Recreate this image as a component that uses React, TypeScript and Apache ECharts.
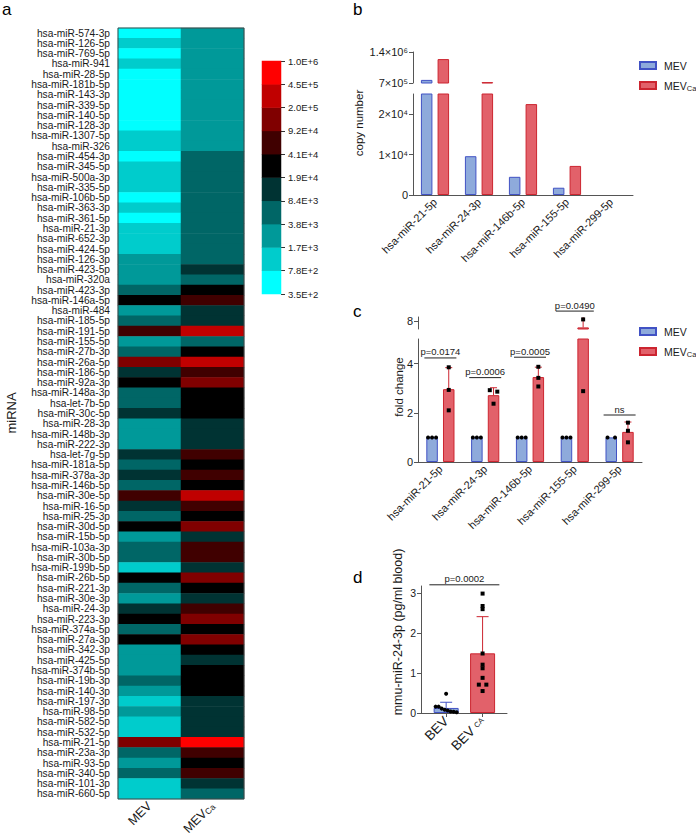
import React, { useEffect, useRef } from 'react';
import * as echarts from 'echarts';

const FONT = '"Liberation Sans", Arial, sans-serif';

// ---------- panel a: heatmap ----------
const heatmapRows = [
  'hsa-miR-574-3p','hsa-miR-126-5p','hsa-miR-769-5p','hsa-miR-941','hsa-miR-28-5p','hsa-miR-181b-5p','hsa-miR-143-3p','hsa-miR-339-5p','hsa-miR-140-5p','hsa-miR-128-3p',
  'hsa-miR-1307-5p','hsa-miR-326','hsa-miR-454-3p','hsa-miR-345-5p','hsa-miR-500a-3p','hsa-miR-335-5p','hsa-miR-106b-5p','hsa-miR-363-3p','hsa-miR-361-5p','hsa-miR-21-3p',
  'hsa-miR-652-3p','hsa-miR-424-5p','hsa-miR-126-3p','hsa-miR-423-5p','hsa-miR-320a','hsa-miR-423-3p','hsa-miR-146a-5p','hsa-miR-484','hsa-miR-185-5p','hsa-miR-191-5p',
  'hsa-miR-155-5p','hsa-miR-27b-3p','hsa-miR-26a-5p','hsa-miR-186-5p','hsa-miR-92a-3p','hsa-miR-148a-3p','hsa-let-7b-5p','hsa-miR-30c-5p','hsa-miR-28-3p','hsa-miR-148b-3p',
  'hsa-miR-222-3p','hsa-let-7g-5p','hsa-miR-181a-5p','hsa-miR-378a-3p','hsa-miR-146b-5p','hsa-miR-30e-5p','hsa-miR-16-5p','hsa-miR-25-3p','hsa-miR-30d-5p','hsa-miR-15b-5p',
  'hsa-miR-103a-3p','hsa-miR-30b-5p','hsa-miR-199b-5p','hsa-miR-26b-5p','hsa-miR-221-3p','hsa-miR-30e-3p','hsa-miR-24-3p','hsa-miR-223-3p','hsa-miR-374a-5p','hsa-miR-27a-3p',
  'hsa-miR-342-3p','hsa-miR-425-5p','hsa-miR-374b-5p','hsa-miR-19b-3p','hsa-miR-140-3p','hsa-miR-197-3p','hsa-miR-98-5p','hsa-miR-582-5p','hsa-miR-532-5p','hsa-miR-21-5p',
  'hsa-miR-23a-3p','hsa-miR-93-5p','hsa-miR-340-5p','hsa-miR-101-3p','hsa-miR-660-5p',
];
const heatmapCols = ['MEV', 'MEVCa'];
const mevCopies = [
  520,1200,520,1200,520,520,520,520,520,520,
  1200,1200,520,1200,1200,1200,520,1200,520,1200,
  1200,1200,2600,2600,2600,5600,28000,2600,5600,62000,
  2600,5600,135000,12500,28000,5600,5600,12500,2600,2600,
  2600,12500,5600,12500,5600,62000,12500,5600,28000,2600,
  5600,5600,1200,28000,5600,2600,12500,28000,5600,28000,
  2600,2600,2600,5600,2600,1200,2600,1200,1200,135000,
  5600,2600,5600,1200,1200,
];
const mevCaCopies = [
  2600,2600,2600,2600,2600,2600,2600,2600,2600,2600,
  2600,2600,5600,5600,5600,5600,5600,5600,5600,5600,
  5600,5600,5600,12500,5600,28000,62000,12500,12500,300000,
  5600,28000,300000,62000,135000,28000,28000,28000,12500,12500,
  12500,62000,28000,62000,28000,300000,62000,28000,135000,12500,
  62000,62000,12500,135000,28000,12500,62000,135000,28000,135000,
  28000,12500,28000,28000,28000,12500,12500,12500,12500,700000,
  62000,28000,62000,12500,5600,
];
const scaleBreaks = [350, 780, 1700, 3800, 8400, 19000, 41000, 92000, 200000, 450000, 1000000];
const scaleLabels = ['3.5E+2','7.8E+2','1.7E+3','3.8E+3','8.4E+3','1.9E+4','4.1E+4','9.2E+4','2.0E+5','4.5E+5','1.0E+6'];
const scaleColors = ['#00ffff','#00cccc','#009999','#006666','#003333','#000000','#400000','#800000','#c00000','#ff0000'];

// ---------- panel b: copy number ----------
const bCats = ['hsa-miR-21-5p','hsa-miR-24-3p','hsa-miR-146b-5p','hsa-miR-155-5p','hsa-miR-299-5p'];
const bMev = [770000, 9600, 4500, 1800, 0];
const bMevCa = [1240000, 720000, 22500, 7200, 0];
const bUpperTicks = [700000, 1400000];
const bUpperLabels = ['7×10⁵', '1.4×10⁶'];
const bLowerTicks = [0, 10000, 20000];
const bLowerLabels = ['0', '1×10⁴', '2×10⁴'];

// ---------- panel c: fold change ----------
const cCats = bCats;
const cMevPts = [[1, 1, 1], [1, 1, 1], [1, 1, 1], [1, 1, 1], [1, 1]];
const cMevCaPts = [[3.85, 2.93, 2.1], [2.92, 2.86, 2.37], [3.87, 3.42, 3.07], [8.1, 2.88, 11.82], [1.6, 1.27, 0.8]];
const cBracketCats = [0, 1, 2, 4];
const cBracketY = [4.23, 3.43, 4.26, 1.91];
const cBracketText = ['p=0.0174', 'p=0.0006', 'p=0.0005', 'ns'];
const cUpperBracketCats = [3];
const cUpperBracketY = [8.62];
const cUpperBracketText = ['p=0.0490'];

// ---------- panel d ----------
const dCats = ['BEV', 'BEVCA'];
const dBevPts = [0.48, 0.16, 0.16, 0.11, 0.08, 0.06, 0.04, 0.03, 0.02];
const dBevCaPts = [2.99, 2.68, 2.6, 1.49, 1.21, 1.12, 0.88, 0.71, 0.71, 0.55];
const dBracketText = ['p=0.0002'];

const MEV_FILL = '#8eaadb';
const MEV_EDGE = '#4152c4';
const CA_FILL = '#e2616a';
const CA_EDGE = '#cc2530';
const AX = '#555';
const TXT = '#1a1a1a';

const mean = (a: number[]) => a.reduce((s, v) => s + v, 0) / a.length;
const sd = (a: number[]) => {
  if (a.length < 2) return 0;
  const m = mean(a);
  return Math.sqrt(a.reduce((s, v) => s + (v - m) * (v - m), 0) / (a.length - 1));
};

function spread(ys: number[], thr: number) {
  const idx = ys.map((_, i) => i).sort((a, b) => ys[a] - ys[b]);
  const out = new Array(ys.length).fill(0);
  let group: number[] = [];
  const flush = () => {
    const n = group.length;
    const step = n === 2 ? 7.5 : n === 3 ? 4 : 3;
    group.forEach((gi, j) => { out[gi] = (j - (n - 1) / 2) * step; });
    group = [];
  };
  idx.forEach((i) => {
    if (group.length && ys[i] - ys[group[group.length - 1]] > thr) flush();
    group.push(i);
  });
  flush();
  return out;
}

const BW = 11.5;
const BGAP_PCT = 45;
const OFF = (BW + BW * BGAP_PCT / 100) / 2;

function makeDots(getPts: (cat: number, g: number) => number[], offFor: (g: number) => number, capW: number) {
  return (params: any, api: any) => {
    const cs = params.coordSys;
    const cat = api.value(0) as number;
    const g = api.value(1) as number;
    const pts = getPts(cat, g);
    const m = mean(pts);
    const s = sd(pts);
    const cx = api.coord([cat, 0])[0] + offFor(g);
    const top = cs.y;
    const bot = cs.y + cs.height;
    const clampY = (y: number) => Math.max(top, Math.min(bot, y));
    const color = g === 0 ? MEV_EDGE : CA_EDGE;
    const children: any[] = [];
    if (s > 0) {
      const y0 = clampY(api.coord([cat, m])[1]);
      const y1raw = api.coord([cat, m + s])[1];
      const y1 = clampY(y1raw);
      if (y0 - y1 > 0.5) children.push({ type: 'line', shape: { x1: cx, y1: y0, x2: cx, y2: y1 }, style: { stroke: color, lineWidth: 1 } });
      if (y1raw >= top && y1raw <= bot) children.push({ type: 'line', shape: { x1: cx - capW / 2, y1: y1raw, x2: cx + capW / 2, y2: y1raw }, style: { stroke: color, lineWidth: 1 } });
    }
    const ys = pts.map((v) => api.coord([cat, v])[1]);
    const offs = spread(ys, 2.5);
    ys.forEach((y, i) => {
      if (y < top - 1 || y > bot + 1) return;
      const x = cx + offs[i];
      children.push(g === 0
        ? { type: 'circle', shape: { cx: x, cy: y, r: 2 }, style: { fill: '#000' } }
        : { type: 'rect', shape: { x: x - 2, y: y - 2, width: 4, height: 4 }, style: { fill: '#000' } });
    });
    return { type: 'group', children };
  };
}

function makeBracket(texts: string[], half: number) {
  return (params: any, api: any) => {
    const p = api.coord([api.value(0), api.value(1)]);
    return {
      type: 'group',
      children: [
        { type: 'line', shape: { x1: p[0] - half, y1: p[1], x2: p[0] + half, y2: p[1] }, style: { stroke: '#222', lineWidth: 1 } },
        { type: 'text', x: p[0], y: p[1] - 1, style: { text: texts[params.dataIndex], align: 'center', verticalAlign: 'bottom', fontSize: 9.5, fill: TXT, fontFamily: FONT } },
      ],
    };
  };
}

const subRich = (size: number, pad: number) => ({ sub: { fontSize: size, padding: [pad, 0, 0, 0], fontFamily: FONT, color: TXT } });

export default function App() {
  const ref = useRef<HTMLDivElement>(null);
  useEffect(() => {
    if (!ref.current) return;
    const chart = echarts.init(ref.current, null, { renderer: 'svg' });

    const heatData: any[] = [];
    heatmapRows.forEach((_, i) => {
      heatData.push([0, i, mevCopies[i]]);
      heatData.push([1, i, mevCaCopies[i]]);
    });
    const pieces = scaleColors.map((c, k) => ({ gte: scaleBreaks[k], lt: scaleBreaks[k + 1], color: c }));
    const segValues = scaleColors.map((_, k) => Math.sqrt(scaleBreaks[k] * scaleBreaks[k + 1]));

    const valAxisBase = (grid: number, min: number, max: number, ticks: number[], labels: string[], fs = 11) => ({
      gridIndex: grid, type: 'value', min, max,
      axisLine: { show: true, onZero: false, lineStyle: { color: AX } },
      axisTick: { show: true, length: 4, customValues: ticks, lineStyle: { color: AX } },
      axisLabel: { customValues: ticks, fontSize: fs, color: TXT, margin: 5, fontFamily: FONT, formatter: (v: number) => { const i = ticks.indexOf(v); return i >= 0 ? labels[i] : ''; } },
      splitLine: { show: false },
    });
    const catAxisHidden = (grid: number, data: string[]) => ({ gridIndex: grid, type: 'category', data, show: false });
    const catAxisLabels = (grid: number, data: string[]) => ({
      gridIndex: grid, type: 'category', data,
      axisLine: { onZero: false, lineStyle: { color: AX } },
      axisTick: { alignWithLabel: true, length: 3, lineStyle: { color: AX } },
      axisLabel: { interval: 0, rotate: 45, margin: 5, fontSize: 11, color: TXT, fontFamily: FONT },
    });
    const barStyle = (g: number) => ({ color: g === 0 ? MEV_FILL : CA_FILL, borderColor: g === 0 ? MEV_EDGE : CA_EDGE, borderWidth: 1 });
    const bar = (name: string, xi: number, yi: number, data: number[], g: number) => ({
      type: 'bar', name, xAxisIndex: xi, yAxisIndex: yi,
      data: data.map((v) => (v > 0 ? v : '-')),
      barWidth: BW, barGap: BGAP_PCT + '%', itemStyle: barStyle(g), clip: true,
    });
    const cMevMeans = cMevPts.map(mean);
    const cCaMeans = cMevCaPts.map(mean);
    const cDotData: number[][] = [];
    cCats.forEach((_, i) => { cDotData.push([i, 0]); cDotData.push([i, 1]); });
    const cDots = makeDots((cat, g) => (g === 0 ? cMevPts : cMevCaPts)[cat], (g) => (g === 0 ? -OFF : OFF), 7);
    const dPts = [dBevPts, dBevCaPts];
    const dDots = makeDots((cat, g) => dPts[g], () => 0, 12);

    const legendBase = (top: number) => ({
      data: ['MEV', 'MEVCa'], orient: 'vertical', left: 634, top, itemWidth: 16, itemHeight: 7, itemGap: 6, icon: 'rect', selectedMode: false,
      formatter: (n: string) => (n === 'MEVCa' ? 'MEV{sub|Ca}' : n),
      textStyle: { fontSize: 10.5, color: TXT, lineHeight: 14, padding: [0, 0, 0, 3], fontFamily: FONT, rich: subRich(7.5, 5) },
    });

    const option: any = {
      animation: false,
      textStyle: { fontFamily: FONT },
      grid: [
        { left: 118, top: 28, width: 126, height: 771, outerBoundsMode: 'none' },
        { left: 262, top: 61, width: 19, height: 233, outerBoundsMode: 'none' },
        { left: 413, top: 52, width: 220, height: 31, outerBoundsMode: 'none' },
        { left: 413, top: 94, width: 220, height: 101, outerBoundsMode: 'none' },
        { left: 418, top: 317, width: 224, height: 12, outerBoundsMode: 'none' },
        { left: 418, top: 339, width: 224, height: 123, outerBoundsMode: 'none' },
        { left: 421, top: 586, width: 86, height: 127, outerBoundsMode: 'none' },
      ],
      legend: [legendBase(53.5), legendBase(319.5)],
      visualMap: { type: 'piecewise', show: false, seriesIndex: [0, 1], pieces, dimension: 2 },
      xAxis: [
        {
          gridIndex: 0, type: 'category', data: heatmapCols, position: 'bottom',
          axisLine: { show: false },
          axisTick: { alignWithLabel: true, length: 4, lineStyle: { color: '#333' } },
          axisLabel: { rotate: 45, margin: 5, fontSize: 12.5, color: TXT, fontFamily: FONT, formatter: (v: string) => (v === 'MEVCa' ? 'MEV{sub|Ca}' : v), rich: subRich(8.5, 4) },
        },
        catAxisHidden(1, ['']),
        catAxisHidden(2, bCats),
        catAxisLabels(3, bCats),
        catAxisHidden(4, cCats),
        catAxisLabels(5, cCats),
        {
          gridIndex: 6, type: 'value', min: -0.69, max: 1.67,
          axisLine: { onZero: false, lineStyle: { color: AX } },
          axisTick: { length: 4, customValues: [0, 1], lineStyle: { color: AX } },
          axisLabel: { customValues: [0, 1], rotate: 45, margin: 6, fontSize: 13.5, color: TXT, fontFamily: FONT, formatter: (v: number) => (Math.round(v) === 1 ? 'BEV {sub|CA}' : dCats[0]), rich: subRich(7.5, 0) },
          splitLine: { show: false },
        },
      ],
      yAxis: [
        {
          gridIndex: 0, type: 'category', data: heatmapRows, inverse: true, position: 'left',
          axisLine: { show: false },
          axisTick: { alignWithLabel: true, interval: 0, length: 10, lineStyle: { color: '#222' } },
          axisLabel: { interval: 0, fontSize: 10.2, lineHeight: 10, margin: 8, color: TXT, fontFamily: FONT },
        },
        {
          gridIndex: 0, type: 'category', data: heatmapRows, inverse: true, position: 'left', z: 10,
          axisLine: { show: false },
          axisTick: { inside: true, alignWithLabel: true, interval: 0, length: 10, lineStyle: { color: '#222' } },
          axisLabel: { show: false },
        },
        { gridIndex: 1, type: 'category', data: scaleColors.map((_, k) => String(k)), show: false },
        {
          gridIndex: 1, type: 'value', min: 0, max: 10, interval: 1, position: 'right',
          axisLine: { show: false },
          axisTick: { show: true, length: 4, lineStyle: { color: '#333' } },
          axisLabel: { fontSize: 9.5, margin: 7, color: TXT, fontFamily: FONT, formatter: (v: number) => scaleLabels[Math.round(v)] },
          splitLine: { show: false },
        },
        valAxisBase(2, 700000, 1400000, bUpperTicks, bUpperLabels),
        valAxisBase(3, 0, 25000, bLowerTicks, bLowerLabels),
        valAxisBase(4, 7.5, 8.25, [8], ['8']),
        valAxisBase(5, 0, 5, [0, 2, 4], ['0', '2', '4']),
        valAxisBase(6, 0, 3.18, [0, 1, 2, 3], ['0', '1', '2', '3'], 10.5),
      ],
      series: [
        { type: 'heatmap', name: 'heat', xAxisIndex: 0, yAxisIndex: 0, data: heatData },
        { type: 'heatmap', name: 'scale', xAxisIndex: 1, yAxisIndex: 2, data: segValues.map((v, k) => [0, k, v]) },
        bar('MEV', 2, 4, bMev, 0),
        bar('MEVCa', 2, 4, bMevCa, 1),
        bar('MEV', 3, 5, bMev, 0),
        bar('MEVCa', 3, 5, bMevCa, 1),
        bar('MEV', 4, 6, cMevMeans, 0),
        bar('MEVCa', 4, 6, cCaMeans, 1),
        bar('MEV', 5, 7, cMevMeans, 0),
        bar('MEVCa', 5, 7, cCaMeans, 1),
        { type: 'custom', name: 'cdotsU', xAxisIndex: 4, yAxisIndex: 6, data: cDotData, renderItem: cDots, z: 5 },
        { type: 'custom', name: 'cdotsL', xAxisIndex: 5, yAxisIndex: 7, data: cDotData, renderItem: cDots, z: 5 },
        { type: 'custom', name: 'cbrL', xAxisIndex: 5, yAxisIndex: 7, data: cBracketCats.map((c, i) => [c, cBracketY[i]]), renderItem: makeBracket(cBracketText, 16), z: 5 },
        { type: 'custom', name: 'cbrU', xAxisIndex: 4, yAxisIndex: 6, data: cUpperBracketCats.map((c, i) => [c, cUpperBracketY[i]]), renderItem: makeBracket(cUpperBracketText, 19), z: 5 },
        {
          type: 'bar', name: 'dbar', xAxisIndex: 6, yAxisIndex: 8, barWidth: 25,
          data: [
            { value: [0, mean(dBevPts)], itemStyle: barStyle(0) },
            { value: [1, mean(dBevCaPts)], itemStyle: barStyle(1) },
          ],
        },
        { type: 'custom', name: 'ddots', xAxisIndex: 6, yAxisIndex: 8, data: [[0, 0], [1, 1]], renderItem: dDots, z: 5 },
        { type: 'custom', name: 'dbr', xAxisIndex: 6, yAxisIndex: 8, data: [[0.5, 3.21]], renderItem: makeBracket(dBracketText, 35), z: 5 },
      ],
      graphic: [
        { type: 'rect', shape: { x: 118, y: 28, width: 126, height: 771 }, style: { fill: 'none', stroke: '#444', lineWidth: 1 }, z: 100 },
        { type: 'text', x: 2, y: 9, style: { text: 'a', fontSize: 17, fill: '#000', fontFamily: FONT, verticalAlign: 'middle' } },
        { type: 'text', x: 353, y: 9, style: { text: 'b', fontSize: 17, fill: '#000', fontFamily: FONT, verticalAlign: 'middle' } },
        { type: 'text', x: 353, y: 311, style: { text: 'c', fontSize: 17, fill: '#000', fontFamily: FONT, verticalAlign: 'middle' } },
        { type: 'text', x: 353, y: 577, style: { text: 'd', fontSize: 17, fill: '#000', fontFamily: FONT, verticalAlign: 'middle' } },
        { type: 'text', x: 11, y: 413, rotation: Math.PI / 2, style: { text: 'miRNA', fontSize: 13, fill: TXT, fontFamily: FONT, align: 'center', verticalAlign: 'middle' } },
        { type: 'text', x: 359, y: 123, rotation: Math.PI / 2, style: { text: 'copy number', fontSize: 11.5, fill: TXT, fontFamily: FONT, align: 'center', verticalAlign: 'middle' } },
        { type: 'text', x: 399, y: 387, rotation: Math.PI / 2, style: { text: 'fold change', fontSize: 11.5, fill: TXT, fontFamily: FONT, align: 'center', verticalAlign: 'middle' } },
        { type: 'text', x: 398, y: 632, rotation: Math.PI / 2, style: { text: 'mmu-miR-24-3p (pg/ml blood)', fontSize: 12.5, fill: TXT, fontFamily: FONT, align: 'center', verticalAlign: 'middle' } },
      ],
    };
    chart.setOption(option);
    return () => chart.dispose();
  }, []);
  return <div ref={ref} style={{ position: 'fixed', left: 0, top: 0, width: 696, height: 836, background: '#fff' }} />;
}
